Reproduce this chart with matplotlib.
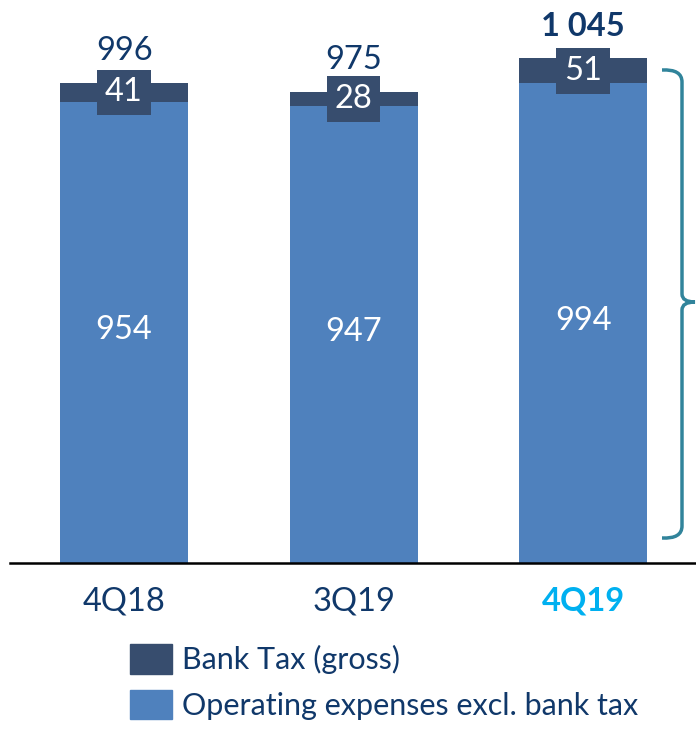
import matplotlib.pyplot as plt
from matplotlib.patches import Patch
from matplotlib.path import Path
from matplotlib.patches import PathPatch

plt.rcParams['font.family'] = ['Lato', 'DejaVu Sans']

quarters = ["4Q18", "3Q19", "4Q19"]
opex = [954, 947, 994]
bank_tax = [41, 28, 51]
totals = ["996", "975", "1 045"]

c_opex = "#4F81BD"
c_tax = "#374D6E"
c_text = "#10386A"
c_hi = "#00B0F0"
c_brace = "#31849B"

W, H = 696, 729
fig = plt.figure(figsize=(W / 100, H / 100), dpi=100)
# axes: left edge at 10px, baseline at 563px from top, top at figure top
ax = fig.add_axes([10 / W, (H - 563) / H, (W - 10) / W, 563 / H])

x = range(len(quarters))
ax.bar(x, opex, width=0.558, color=c_opex)
ax.bar(x, bank_tax, width=0.558, bottom=opex, color=c_tax)

ax.set_xlim(-0.497, 2.492)
ax.set_ylim(0, 1166)

for i in x:
    ax.text(i, opex[i] * 0.505, str(opex[i]), ha="center", va="center",
            color="white", fontsize=23.5)
    ax.text(i, opex[i] + bank_tax[i] / 2, str(bank_tax[i]), ha="center", va="center",
            color="white", fontsize=23.5,
            bbox=dict(boxstyle="square,pad=0.24", fc=c_tax, ec="none"))
    bold = i == len(quarters) - 1
    ax.annotate(totals[i], (i, opex[i] + bank_tax[i]), xytext=(0, 23),
                textcoords="offset points", ha="center", va="center",
                color=c_text, fontsize=23.5, fontweight="bold" if bold else "normal")

for s in ["top", "left", "right"]:
    ax.spines[s].set_visible(False)
ax.spines["bottom"].set_linewidth(1.8)
ax.set_yticks([])
ax.set_xticks(list(x))
ax.set_xticklabels(quarters, fontsize=23.5)
ax.tick_params(axis="x", length=0, pad=17)
for i, lab in enumerate(ax.get_xticklabels()):
    if i == len(quarters) - 1:
        lab.set_color(c_hi)
        lab.set_fontweight("bold")
    else:
        lab.set_color(c_text)

# right-hand brace
def px(xp, yp):
    return (xp / W, 1 - yp / H)

top, mid, bot = 70, 302, 538
verts = [px(662, top), px(682, top - 1), px(682, top + 12),
         px(682, mid - 8), px(682, mid), px(695, mid),
         px(682, mid), px(682, mid + 8),
         px(682, bot - 12), px(682, bot + 1), px(662, bot)]
codes = [Path.MOVETO, Path.CURVE3, Path.CURVE3,
         Path.LINETO, Path.CURVE3, Path.CURVE3,
         Path.CURVE3, Path.CURVE3,
         Path.LINETO, Path.CURVE3, Path.CURVE3]
fig.add_artist(PathPatch(Path(verts, codes), transform=fig.transFigure,
                         fc="none", ec=c_brace, lw=2.5))

handles = [Patch(color=c_tax, label="Bank Tax (gross)"),
           Patch(color=c_opex, label="Operating expenses excl. bank tax")]
leg = fig.legend(handles=handles, loc="upper left", bbox_to_anchor=(130 / W, 1 - 644 / H),
                 frameon=False, fontsize=22, handlelength=1.37, handleheight=1.12,
                 handletextpad=0.33, labelspacing=0.5, borderpad=0, borderaxespad=0)
for t in leg.get_texts():
    t.set_color(c_text)

fig.savefig("out.png", dpi=100)
